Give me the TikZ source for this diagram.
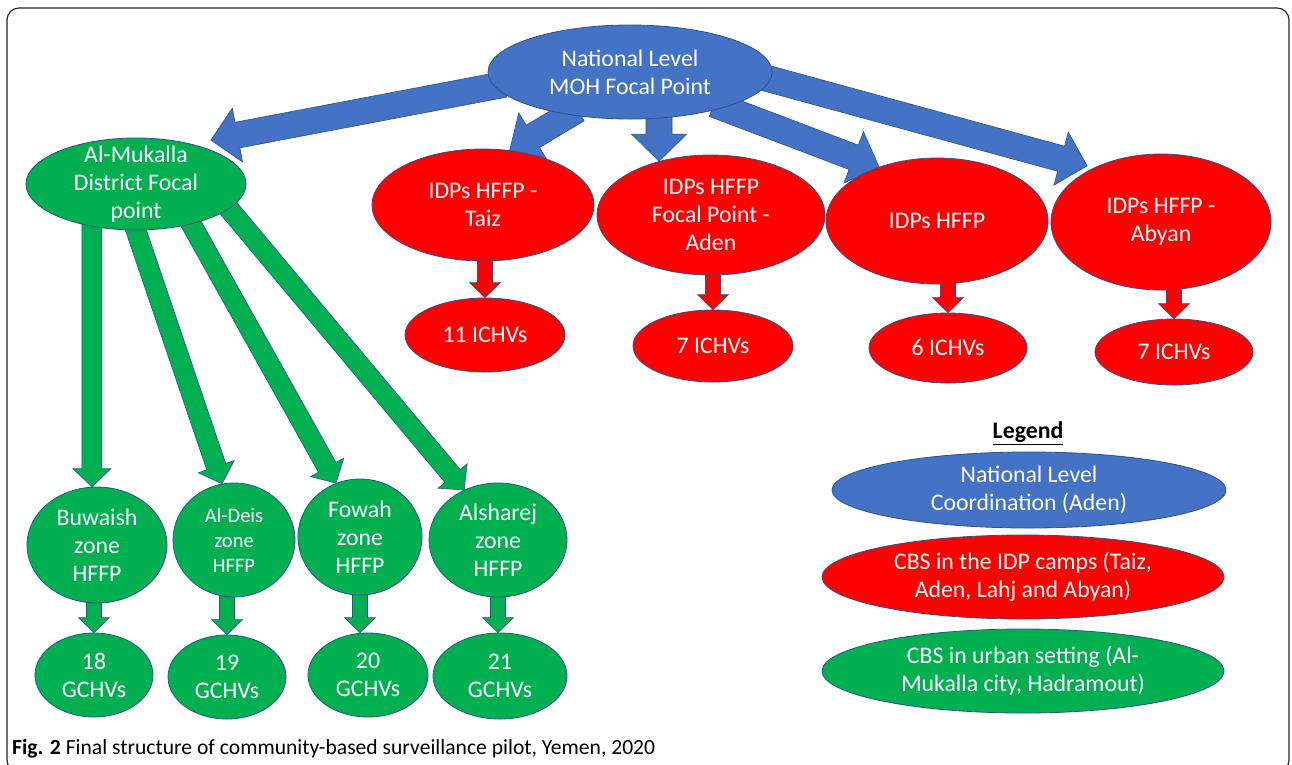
\documentclass[tikz,border=0pt]{standalone}
\usepackage{fontspec}
\setmainfont{Carlito}
\usetikzlibrary{shapes.geometric,calc,backgrounds}

\definecolor{natblue}{HTML}{4472C4}
\definecolor{idpred}{HTML}{FF0000}
\definecolor{urbgreen}{HTML}{00B050}
\definecolor{rim}{HTML}{2F528F}

\tikzset{
  oval/.style={ellipse, draw=rim, line width=0.8pt, text=white, align=center,
    inner sep=-12pt, font=\fontsize{23.8}{28}\selectfont},
  blueoval/.style={oval, fill=natblue},
  redoval/.style={oval, fill=idpred},
  greenoval/.style={oval, fill=urbgreen},
  dims/.style 2 args={minimum width=#1pt, minimum height=#2pt},
  % block arrow: shaft half width, head half width, head length
  blockarrow/.style n args={3}{draw=rim, line width=0.6pt, to path={
    let \p1=(\tikztostart), \p2=(\tikztotarget),
        \n1={atan2(\y2-\y1,\x2-\x1)}, \n2={veclen(\x2-\x1,\y2-\y1)} in
    ($(\p1)+({\n1}:-10)+({\n1+90}:#1)$)
    -- ($(\p1)+({\n1}:{\n2-#3})+({\n1+90}:#1)$)
    -- ($(\p1)+({\n1}:{\n2-#3})+({\n1+90}:#2)$)
    -- (\p2)
    -- ($(\p1)+({\n1}:{\n2-#3})+({\n1-90}:#2)$)
    -- ($(\p1)+({\n1}:{\n2-#3})+({\n1-90}:#1)$)
    -- ($(\p1)+({\n1}:-10)+({\n1-90}:#1)$) -- cycle}},
  bluearrow/.style={fill=natblue, blockarrow={13}{27.5}{27}},
  greenarrow/.style={fill=urbgreen, blockarrow={10}{19}{18}},
  smallgreen/.style={fill=urbgreen, blockarrow={7.5}{15.5}{15}},
  smallred/.style={fill=idpred, blockarrow={7.5}{15.5}{15}},
}

\begin{document}
\begin{tikzpicture}[x=1pt, y=1pt]

	\useasboundingbox (0,0) rectangle (1292,-764);

	% Frame
	\draw[rounded corners=12pt, line width=1.2pt, black!85] (7,-8) rectangle (1289,-772);

	% National level
	\node[blueoval, dims={284}{94}] (nat) at (630,-72) {National Level\\MOH Focal Point};

	% IDP camps
	\node[redoval, dims={222}{112}] (taiz) at (483,-205) {IDPs HFFP -\\Taiz};
	\node[redoval, dims={228}{120}] (aden) at (711,-215) {IDPs HFFP\\Focal Point -\\Aden};
	\node[redoval, dims={222}{126}] (hffp) at (937,-221) {IDPs HFFP};
	\node[redoval, dims={220}{136}] (abyan) at (1161,-222) {IDPs HFFP -\\Abyan};

	\node[redoval, dims={160}{74}] (i11) at (485,-335) {11 ICHVs};
	\node[redoval, dims={160}{72}] (i7a) at (713,-346) {7 ICHVs};
	\node[redoval, dims={158}{70}] (i6) at (948,-348) {6 ICHVs};
	\node[redoval, dims={158}{66}] (i7b) at (1174,-352) {7 ICHVs};

	% Urban setting
	\node[greenoval, dims={220}{92}] (muk) at (136,-184) {Al-Mukalla\\District Focal\\point};

	\node[greenoval, dims={140}{116}] (buw) at (97,-545) {Buwaish\\zone\\HFFP};
	\node[greenoval, dims={122}{114}, font=\fontsize{20.5}{25}\selectfont] (deis) at (234,-540) {Al-Deis\\zone\\HFFP};
	\node[greenoval, dims={124}{116}] (fow) at (360,-537) {Fowah\\zone\\HFFP};
	\node[greenoval, dims={138}{114}] (shj) at (498,-540) {Alsharej\\zone\\HFFP};

	\node[greenoval, dims={118}{84}] (g18) at (94,-675) {18\\GCHVs};
	\node[greenoval, dims={118}{84}] (g19) at (227,-677) {19\\GCHVs};
	\node[greenoval, dims={120}{84}] (g20) at (368,-675) {20\\GCHVs};
	\node[greenoval, dims={134}{86}] (g21) at (500,-676) {21\\GCHVs};

	% Legend
	\node[font=\fontsize{23.8}{28}\selectfont\bfseries] (legend) at (1028,-433) {\underline{Legend}};
	\node[blueoval, dims={394}{76}] (leg1) at (1029,-490) {National Level\\Coordination (Aden)};
	\node[redoval, dims={402}{84}] (leg2) at (1023,-577) {CBS in the IDP camps (Taiz,\\Aden, Lahj and Abyan)};
	\node[greenoval, dims={402}{84}] (leg3) at (1023,-671) {CBS in urban setting (Al-\\Mukalla city, Hadramout)};

	% Caption
	\node[anchor=base west, inner sep=0pt, font=\fontsize{21.6}{25}\selectfont] (cap) at (12,-754)
		{\textbf{Fig. 2} Final structure of community-based surveillance pilot, Yemen, 2020};

	\begin{scope}[on background layer]
		\fill[white] (0,0) rectangle (1292,-764);

		% Arrows from national level
		\draw[bluearrow] (nat.186) to ($(muk.36)!20pt!(nat.186)$);
		\draw[bluearrow] (nat.215) to (taiz.64);
		\draw[bluearrow] (aden.134 |- nat.center) to (aden.134);
		\draw[bluearrow] (nat.339) to (hffp.137);
		\draw[bluearrow] (nat.357) to ($(abyan.141)!7pt!(nat.357)$);

		% Arrows from district
		\draw[greenarrow] (buw.95 |- muk.center) to (buw.95);
		\draw[greenarrow] (muk.south) to (deis.102);
		\draw[greenarrow] (muk.324) to (fow.114);
		\draw[greenarrow] (muk.345) to (shj.124);

		% Zones to volunteers
		\draw[smallgreen] (g18.north |- buw.south) to (g18.north);
		\draw[smallgreen] (g19.north |- deis.south) to (g19.north);
		\draw[smallgreen] (fow.south) to (fow.south |- g20.north);
		\draw[smallgreen] (shj.south) to (shj.south |- g21.north);

		% Camps to volunteers
		\draw[smallred] (i11.north |- taiz.south) to (i11.north);
		\draw[smallred] (i7a.north |- aden.south) to (i7a.north);
		\draw[smallred] (i6.north |- hffp.south) to (i6.north);
		\draw[smallred] (i7b.north |- abyan.south) to (i7b.north);
	\end{scope}

\end{tikzpicture}
\end{document}
